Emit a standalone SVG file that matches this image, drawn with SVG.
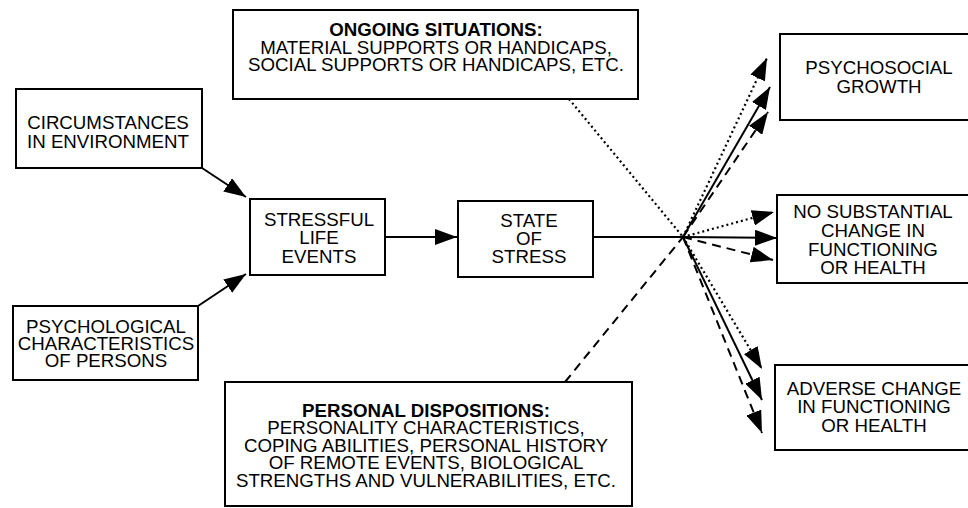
<svg xmlns="http://www.w3.org/2000/svg" width="968" height="508" viewBox="0 0 968 508">
<style>
.box{fill:#fff;stroke:#000;stroke-width:2}
.t{font-family:"Liberation Sans",Arial,Helvetica,sans-serif;font-size:18.7px;fill:#000;text-anchor:middle}
.b{font-weight:bold}
.ln{stroke:#000;stroke-width:2;fill:none}
.dot{stroke-dasharray:2 3;stroke-width:2.2}
.dash{stroke-dasharray:9 6}
</style>
<defs>
<marker id="ah" markerUnits="userSpaceOnUse" markerWidth="22" markerHeight="16" refX="22" refY="8" orient="auto">
<path d="M0,0 L22,8 L0,16 z" fill="#000"/>
</marker>
</defs>
<rect width="968" height="508" fill="#fff"/>
<g id="ongoing">
<rect class="box" x="233" y="10" width="405" height="89"/>
<text class="t"><tspan class="b" x="436" y="36">ONGOING SITUATIONS:</tspan><tspan x="436" y="54">MATERIAL SUPPORTS OR HANDICAPS,</tspan><tspan x="436" y="71">SOCIAL SUPPORTS OR HANDICAPS, ETC.</tspan></text>
</g>
<g id="circumstances">
<rect class="box" x="16" y="89" width="186" height="79"/>
<text class="t"><tspan x="108" y="129">CIRCUMSTANCES</tspan><tspan x="108" y="148">IN ENVIRONMENT</tspan></text>
</g>
<g id="psychological">
<rect class="box" x="13" y="306" width="185" height="74"/>
<text class="t"><tspan x="106" y="333">PSYCHOLOGICAL</tspan><tspan x="106" y="350">CHARACTERISTICS</tspan><tspan x="106" y="367">OF PERSONS</tspan></text>
</g>
<g id="stressful">
<rect class="box" x="250" y="199" width="135" height="76"/>
<text class="t"><tspan x="319" y="226">STRESSFUL</tspan><tspan x="319" y="244">LIFE</tspan><tspan x="319" y="263">EVENTS</tspan></text>
</g>
<g id="state">
<rect class="box" x="458" y="201" width="135" height="76"/>
<text class="t"><tspan x="529" y="227">STATE</tspan><tspan x="529" y="245">OF</tspan><tspan x="529" y="263">STRESS</tspan></text>
</g>
<g id="psychosocial">
<rect class="box" x="780" y="34" width="200" height="86"/>
<text class="t"><tspan x="879" y="74">PSYCHOSOCIAL</tspan><tspan x="879" y="93">GROWTH</tspan></text>
</g>
<g id="nochange">
<rect class="box" x="777" y="195" width="203" height="88"/>
<text class="t"><tspan x="873" y="218">NO SUBSTANTIAL</tspan><tspan x="873" y="237">CHANGE IN</tspan><tspan x="873" y="256">FUNCTIONING</tspan><tspan x="873" y="274">OR HEALTH</tspan></text>
</g>
<g id="adverse">
<rect class="box" x="775" y="365" width="205" height="85"/>
<text class="t"><tspan x="874" y="395">ADVERSE CHANGE</tspan><tspan x="874" y="413">IN FUNCTIONING</tspan><tspan x="874" y="432">OR HEALTH</tspan></text>
</g>
<g id="personal">
<rect class="box" x="225" y="382" width="407" height="124"/>
<text class="t"><tspan class="b" x="426" y="417">PERSONAL DISPOSITIONS:</tspan><tspan x="426" y="434">PERSONALITY CHARACTERISTICS,</tspan><tspan x="426" y="452">COPING ABILITIES, PERSONAL HISTORY</tspan><tspan x="426" y="469">OF REMOTE EVENTS, BIOLOGICAL</tspan><tspan x="426" y="487">STRENGTHS AND VULNERABILITIES, ETC.</tspan></text>
</g>
<g id="connectors">
<line class="ln" x1="202" y1="168" x2="246" y2="197" marker-end="url(#ah)"/>
<line class="ln" x1="198" y1="306" x2="246" y2="274" marker-end="url(#ah)"/>
<line class="ln" x1="385" y1="237" x2="457" y2="237" marker-end="url(#ah)"/>
<line class="ln" x1="593" y1="237" x2="683" y2="237"/>
<line class="ln dot" x1="569" y1="99" x2="683" y2="237"/>
<line class="ln dash" x1="565" y1="382" x2="683" y2="237"/>
<line class="ln dot" x1="683" y1="237" x2="767" y2="58" marker-end="url(#ah)"/>
<line class="ln" x1="683" y1="237" x2="770" y2="87" marker-end="url(#ah)"/>
<line class="ln dash" x1="683" y1="237" x2="768" y2="112" marker-end="url(#ah)"/>
<line class="ln dot" x1="683" y1="237" x2="774" y2="212" marker-end="url(#ah)"/>
<line class="ln" x1="683" y1="237" x2="777" y2="238" marker-end="url(#ah)"/>
<line class="ln dash" x1="683" y1="237" x2="773" y2="260" marker-end="url(#ah)"/>
<line class="ln dot" x1="683" y1="237" x2="762" y2="369" marker-end="url(#ah)"/>
<line class="ln" x1="683" y1="237" x2="762" y2="400" marker-end="url(#ah)"/>
<line class="ln dash" x1="683" y1="237" x2="762" y2="433" marker-end="url(#ah)"/>
</g>
</svg>
